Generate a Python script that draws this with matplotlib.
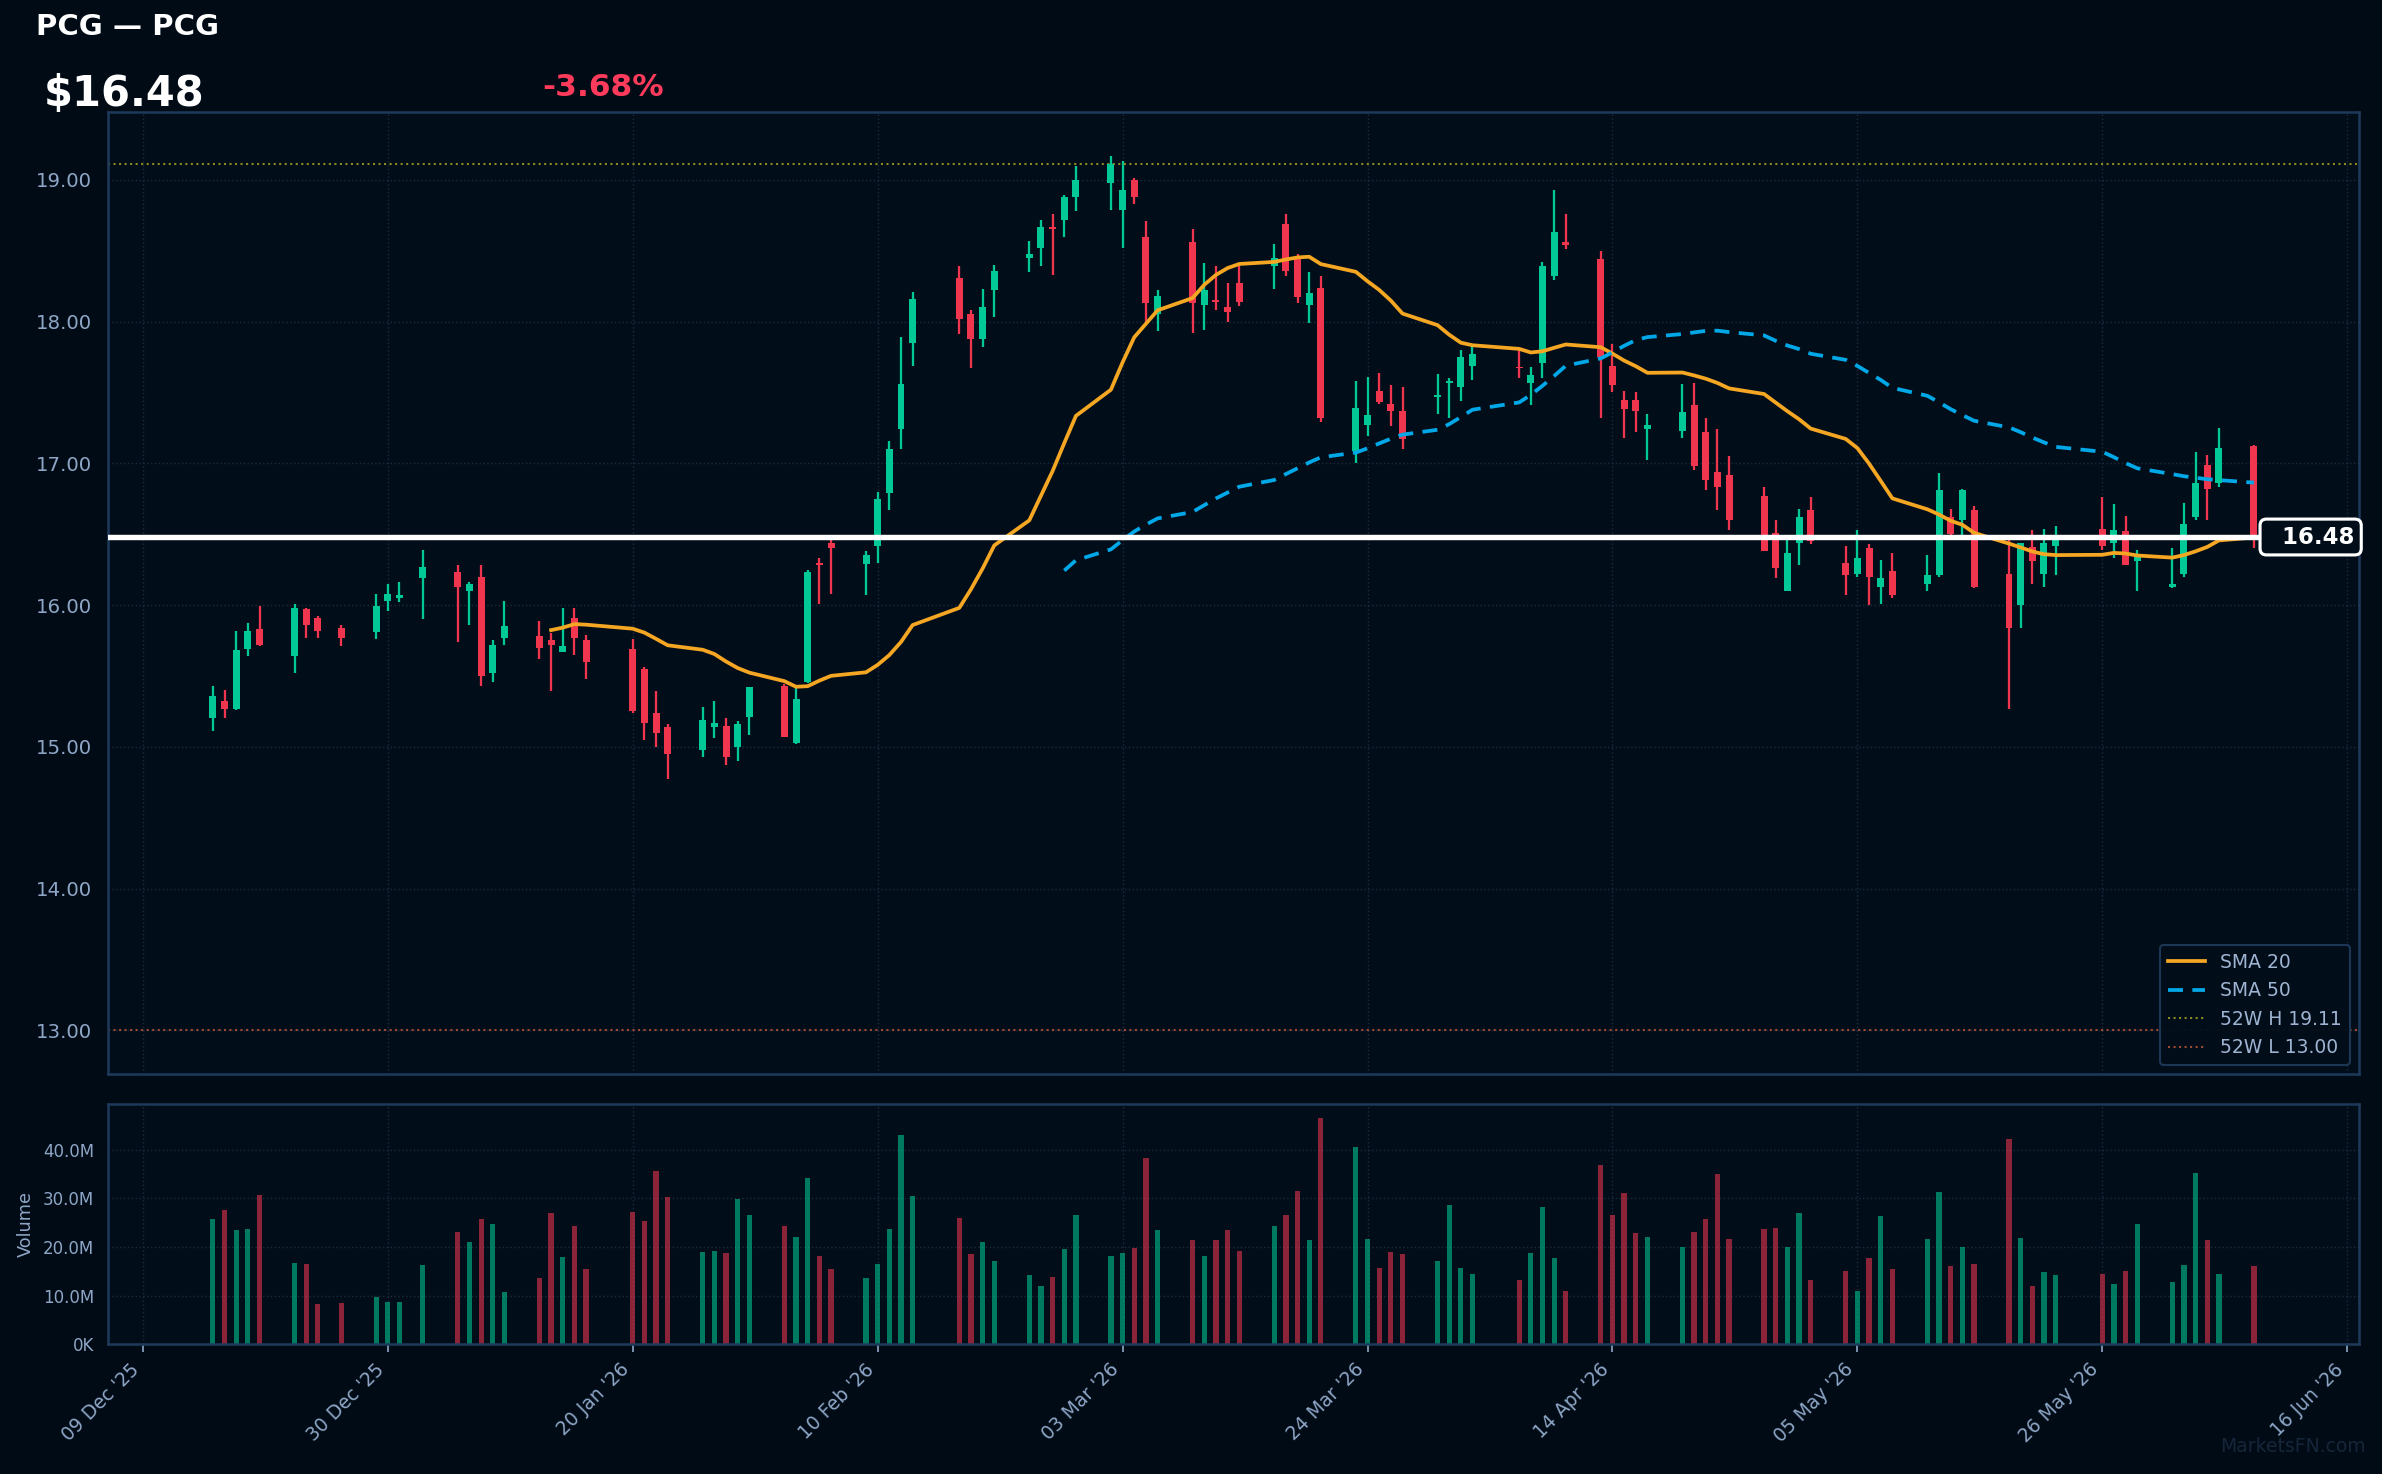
import pandas as pd
import numpy as np
import matplotlib
matplotlib.use('Agg')
import matplotlib.pyplot as plt
import matplotlib.dates as mdates
from matplotlib.ticker import FuncFormatter, FixedLocator, MultipleLocator
from matplotlib.transforms import blended_transform_factory

# --- data ---
symbol = 'PCG'
name = 'PCG'
holidays = ['2025-12-25', '2026-01-01', '2026-01-19', '2026-02-16', '2026-04-03', '2026-05-25']
dates = pd.bdate_range('2025-12-15', '2026-06-08', freq='C', holidays=holidays)

opens = [15.20, 15.32, 15.27, 15.69, 15.83, 15.64, 15.97, 15.91, 15.84, 15.81, 16.03, 16.05,
         16.19, 16.23, 16.10, 16.20, 15.52, 15.77, 15.78, 15.75, 15.67, 15.91, 15.75, 15.69,
         15.55, 15.24, 15.14, 14.98, 15.14, 15.15, 15.00, 15.21, 15.43, 15.03, 15.46, 16.30,
         16.44, 16.29, 16.42, 16.79, 17.24, 17.85, 18.31, 18.05, 17.88, 18.22, 18.45, 18.52,
         18.67, 18.72, 18.88, 18.98, 18.79, 19.00, 18.60, 18.05, 18.56, 18.12, 18.15, 18.10,
         18.27, 18.39, 18.69, 18.44, 18.12, 18.24, 17.09, 17.27, 17.51, 17.42, 17.37, 17.47,
         17.57, 17.54, 17.69, 17.68, 17.57, 17.71, 18.32, 18.56, 18.44, 17.69, 17.45, 17.45,
         17.24, 17.23, 17.41, 17.22, 16.94, 16.92, 16.77, 16.51, 16.10, 16.44, 16.67, 16.30,
         16.22, 16.40, 16.13, 16.24, 16.15, 16.21, 16.62, 16.60, 16.67, 16.22, 16.00, 16.41,
         16.22, 16.42, 16.54, 16.44, 16.52, 16.31, 16.13, 16.22, 16.62, 16.99, 16.86, 17.12]
highs = [15.43, 15.40, 15.82, 15.87, 15.99, 16.01, 15.98, 15.92, 15.86, 16.08, 16.15, 16.16,
         16.39, 16.28, 16.16, 16.28, 15.75, 16.03, 15.89, 15.80, 15.98, 15.98, 15.79, 15.76,
         15.56, 15.39, 15.16, 15.28, 15.32, 15.20, 15.18, 15.42, 15.44, 15.42, 16.25, 16.33,
         16.47, 16.38, 16.80, 17.16, 17.89, 18.21, 18.39, 18.08, 18.23, 18.40, 18.57, 18.72,
         18.76, 18.89, 19.10, 19.17, 19.13, 19.01, 18.71, 18.22, 18.65, 18.41, 18.39, 18.27,
         18.41, 18.55, 18.76, 18.48, 18.35, 18.32, 17.58, 17.61, 17.64, 17.55, 17.54, 17.63,
         17.60, 17.80, 17.83, 17.80, 17.68, 18.42, 18.93, 18.76, 18.50, 17.84, 17.51, 17.50,
         17.35, 17.56, 17.57, 17.32, 17.24, 17.05, 16.83, 16.60, 16.47, 16.68, 16.76, 16.42,
         16.53, 16.43, 16.32, 16.37, 16.35, 16.93, 16.68, 16.82, 16.70, 16.47, 16.44, 16.53,
         16.54, 16.56, 16.76, 16.71, 16.63, 16.39, 16.40, 16.72, 17.08, 17.06, 17.25, 17.13]
lows = [15.11, 15.20, 15.26, 15.64, 15.71, 15.52, 15.77, 15.77, 15.71, 15.76, 15.96, 16.02,
        15.90, 15.74, 15.86, 15.43, 15.46, 15.72, 15.62, 15.39, 15.67, 15.65, 15.48, 15.24,
        15.05, 15.00, 14.77, 14.93, 15.06, 14.87, 14.90, 15.08, 15.07, 15.02, 15.45, 16.01,
        16.08, 16.07, 16.30, 16.67, 17.10, 17.69, 17.91, 17.67, 17.82, 18.03, 18.35, 18.39,
        18.33, 18.60, 18.78, 18.79, 18.52, 18.83, 18.00, 17.93, 17.92, 17.94, 18.08, 18.00,
        18.11, 18.23, 18.32, 18.13, 17.99, 17.29, 17.00, 17.19, 17.42, 17.26, 17.10, 17.35,
        17.32, 17.44, 17.59, 17.60, 17.41, 17.60, 18.29, 18.51, 17.32, 17.50, 17.18, 17.22,
        17.02, 17.18, 16.95, 16.81, 16.67, 16.53, 16.38, 16.19, 16.10, 16.28, 16.43, 16.07,
        16.20, 16.00, 16.01, 16.05, 16.10, 16.20, 16.46, 16.49, 16.12, 15.27, 15.84, 16.15,
        16.13, 16.21, 16.39, 16.33, 16.28, 16.10, 16.12, 16.20, 16.60, 16.60, 16.83, 16.40]
closes = [15.36, 15.27, 15.68, 15.82, 15.72, 15.98, 15.86, 15.82, 15.77, 15.99, 16.08, 16.07,
          16.27, 16.13, 16.15, 15.50, 15.72, 15.85, 15.70, 15.72, 15.71, 15.77, 15.60, 15.25,
          15.17, 15.10, 14.95, 15.19, 15.17, 14.93, 15.16, 15.42, 15.07, 15.34, 16.23, 16.28,
          16.40, 16.35, 16.75, 17.10, 17.56, 18.16, 18.02, 17.88, 18.10, 18.36, 18.48, 18.67,
          18.65, 18.88, 19.00, 19.11, 18.93, 18.88, 18.13, 18.18, 18.13, 18.22, 18.14, 18.07,
          18.14, 18.45, 18.36, 18.17, 18.20, 17.32, 17.39, 17.34, 17.43, 17.37, 17.17, 17.48,
          17.58, 17.75, 17.77, 17.67, 17.62, 18.39, 18.63, 18.54, 17.75, 17.55, 17.38, 17.37,
          17.27, 17.36, 16.98, 16.88, 16.83, 16.60, 16.38, 16.26, 16.37, 16.62, 16.45, 16.21,
          16.33, 16.20, 16.19, 16.07, 16.21, 16.81, 16.50, 16.81, 16.13, 15.84, 16.44, 16.31,
          16.44, 16.48, 16.42, 16.53, 16.28, 16.34, 16.15, 16.57, 16.86, 16.82, 17.11, 16.48]
volumes_m = [25.8, 27.6, 23.4, 23.8, 30.7, 16.8, 16.6, 8.3, 8.5, 9.7, 8.7, 8.7,
             16.2, 23.1, 21.1, 25.8, 24.8, 10.7, 13.6, 27.0, 17.9, 24.4, 15.4, 27.2,
             25.4, 35.6, 30.3, 18.9, 19.1, 18.7, 29.9, 26.6, 24.4, 22.1, 34.1, 18.1,
             15.4, 13.6, 16.6, 23.8, 43.1, 30.5, 26.0, 18.5, 21.1, 17.2, 14.2, 11.9,
             13.8, 19.5, 26.6, 18.1, 18.7, 19.7, 38.4, 23.4, 21.5, 18.1, 21.5, 23.4,
             19.1, 24.4, 26.6, 31.5, 21.5, 46.6, 40.5, 21.7, 15.6, 18.9, 18.5, 17.2,
             28.6, 15.6, 14.4, 13.2, 18.7, 28.2, 17.7, 10.9, 36.8, 26.6, 31.1, 22.9,
             22.1, 19.9, 23.1, 25.8, 35.0, 21.7, 23.8, 24.0, 20.1, 27.0, 13.2, 15.0,
             10.9, 17.7, 26.4, 15.4, 21.7, 31.3, 16.0, 20.1, 16.6, 42.3, 21.9, 11.9,
             14.8, 14.2, 14.4, 12.4, 15.0, 24.8, 12.8, 16.2, 35.2, 21.5, 14.4, 16.0]
high_52w = 19.11
low_52w = 13.00
change_pct = -3.68
tick_dates = pd.date_range('2025-12-09', '2026-06-16', freq='21D')

# --- colours ---
BG = '#010b16'
AX_BG = '#010d19'
UP = '#00c896'
DOWN = '#f0364f'
TXT = '#8ea6c6'
SPINE = '#1e3a5a'
GRID = '#1a2a3d'

df = pd.DataFrame({'open': opens, 'high': highs, 'low': lows, 'close': closes,
                   'volume': np.array(volumes_m) * 1e6}, index=dates)
df['sma20'] = df['close'].rolling(20).mean()
df['sma50'] = df['close'].rolling(50).mean()

x = mdates.date2num(df.index.to_pydatetime())
up = df['close'] >= df['open']
cols = np.where(up, UP, DOWN)
last = df['close'].iloc[-1]

fig = plt.figure(figsize=(2382 / 150, 1474 / 150), dpi=150, facecolor=BG)
ax = fig.add_axes([0.0453, 0.2714, 0.945, 0.6526], facecolor=AX_BG)
axv = fig.add_axes([0.0453, 0.0880, 0.945, 0.1630], facecolor=AX_BG, sharex=ax)

# candles
ax.vlines(x, df['low'], df['high'], colors=cols, linewidth=1.1, zorder=2)
body = np.maximum((df['close'] - df['open']).abs(), 0.012)
ax.bar(x, body, bottom=np.minimum(df['open'], df['close']), width=0.6,
       color=cols, linewidth=0, zorder=3)

# moving averages and reference lines
ax.plot(x, df['sma20'], color='#f5a623', linewidth=1.8, label='SMA 20', zorder=4)
ax.plot(x, df['sma50'], color='#00a8e8', linewidth=1.8, linestyle=(0, (4, 2.5)),
        label='SMA 50', zorder=4)
ax.axhline(high_52w, color='#8c8a1e', linestyle=':', linewidth=1.0, label=f'52W H {high_52w:.2f}')
ax.axhline(low_52w, color='#a04a32', linestyle=':', linewidth=1.0, label=f'52W L {low_52w:.2f}')
ax.axhline(last, color='white', linewidth=2.6, zorder=5)

trans = blended_transform_factory(ax.transAxes, ax.transData)
ax.text(0.9982, last, f'  {last:.2f}', transform=trans, ha='right', va='center',
        fontsize=11, fontweight='bold', color='white', zorder=6,
        bbox=dict(boxstyle='round,pad=0.28', fc=AX_BG, ec='white', lw=1.5))

# volume
axv.bar(x, df['volume'], width=0.45, color=cols, alpha=0.58, linewidth=0)

# limits
lo = min(df['low'].min(), low_52w)
hi = max(df['high'].max(), high_52w)
pad = (hi - lo) * 0.05
ax.set_ylim(lo - pad, hi + pad)
axv.set_ylim(0, df['volume'].max() * 1.06)
ax.set_xlim(x[0] - 9, x[-1] + 9)

# ticks
ax.xaxis.set_major_locator(FixedLocator(mdates.date2num(tick_dates.to_pydatetime())))
ax.xaxis.set_major_formatter(mdates.DateFormatter("%d %b '%y"))
ax.yaxis.set_major_locator(MultipleLocator(1.0))
ax.yaxis.set_major_formatter(FuncFormatter(lambda v, p: f'{v:.2f}'))
axv.yaxis.set_major_locator(MultipleLocator(10e6))


def vol_fmt(v, pos):
    if v >= 1e6:
        return f'{v / 1e6:.1f}M'
    return f'{v / 1e3:.0f}K'


axv.yaxis.set_major_formatter(FuncFormatter(vol_fmt))

ax.tick_params(axis='x', length=0, labelbottom=False)
ax.tick_params(axis='y', labelsize=9.5, labelcolor=TXT, color='#050a10', length=4)
axv.tick_params(axis='x', labelsize=9, labelcolor=TXT, color=TXT, length=4)
axv.tick_params(axis='y', labelsize=8, labelcolor=TXT, color='#050a10', length=3)
plt.setp(axv.get_xticklabels(), rotation=45, ha='right')
axv.set_ylabel('Volume', color=TXT, fontsize=8.5)

for a in (ax, axv):
    a.grid(True, color=GRID, linestyle=':', linewidth=0.7)
    a.set_axisbelow(True)
    for s in a.spines.values():
        s.set_color(SPINE)
        s.set_linewidth(1.2)

leg = ax.legend(loc='lower right', fontsize=9, facecolor=AX_BG, edgecolor=SPINE,
                labelcolor='#9fb4d2', framealpha=0.95)

# header
fig.text(0.0151, 0.9817, f'{symbol} — {name}', fontsize=14, fontweight='bold',
         color='white', va='center')
fig.text(0.0185, 0.9365, f'${last:.2f}', fontsize=20, fontweight='bold',
         color='white', va='center')
fig.text(0.2275, 0.9403, f'{change_pct:.2f}%', fontsize=15, fontweight='bold',
         color='#ff3b5c', va='center')
fig.text(0.993, 0.0125, 'MarketsFN.com', fontsize=9, color='#16263a',
         ha='right', va='bottom')

plt.savefig('out.png', dpi=150, facecolor=BG)
